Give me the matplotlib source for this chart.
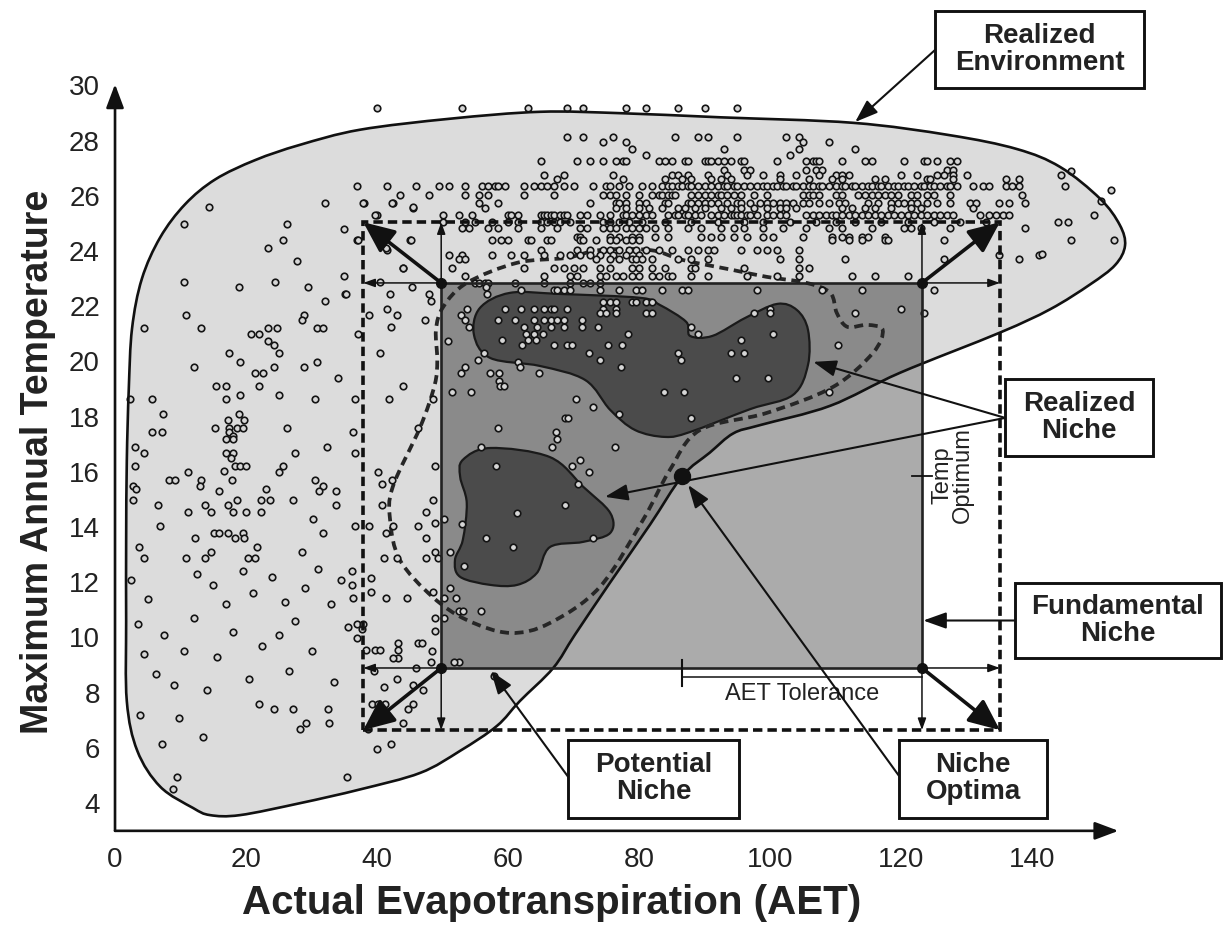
import numpy as np
import matplotlib
matplotlib.use('Agg')
import matplotlib.pyplot as plt
from matplotlib.path import Path
from matplotlib.patches import PathPatch, Rectangle

plt.rcParams['font.family'] = ['Liberation Sans', 'DejaVu Sans']

# ---- axis ticks
x_ticks = [0, 20, 40, 60, 80, 100, 120, 140]
y_ticks = [4, 6, 8, 10, 12, 14, 16, 18, 20, 22, 24, 26, 28, 30]

# ---- outlines (AET, temperature)
realized_env = [(1.8, 7.8), (1.7, 10.7), (1.7, 13.6), (1.8, 16.5), (2.1, 19.1), (2.6, 21.3),
                (4.1, 23.1), (6.9, 24.6), (10.7, 25.8), (15.3, 26.7), (21.4, 27.4), (28.2, 27.95),
                (37.4, 28.5), (51.2, 28.9), (64.9, 29.15), (77.1, 29.1), (92.4, 28.95), (112.7, 28.75),
                (127.5, 28.3), (137.7, 27.8), (144.3, 27.15), (150.4, 26.0), (153.4, 25.05),
                (154.2, 24.3), (152.7, 23.6), (148.9, 22.9), (142.8, 22.0), (135.1, 21.15),
                (119.9, 19.7), (109.2, 18.5), (98.5, 17.8), (94.4, 17.5), (90.8, 16.8), (86.6, 15.95),
                (81.7, 14.2), (75.6, 12.1), (70.2, 10.2), (66.9, 9.0), (61.8, 7.8), (58.3, 6.9),
                (52.7, 6.0), (46.6, 5.2), (37.4, 4.6), (28.2, 4.1), (19.1, 3.67), (14.5, 3.67),
                (11.9, 3.93), (6.9, 4.7), (3.4, 6.0)]

potential_dash = [(81.7, 24.14), (74.0, 24.14), (69.0, 23.86), (61.4, 23.68), (53.7, 22.95),
                  (50.1, 22.08), (49.0, 21.25), (49.2, 20.16), (48.8, 19.25), (46.6, 17.73),
                  (42.4, 15.56), (42.0, 14.36), (43.5, 12.91), (48.5, 11.57), (53.7, 10.74),
                  (60.3, 10.27), (66.4, 10.63), (74.0, 11.93), (80.6, 14.36), (84.7, 16.17),
                  (89.3, 17.62), (99.5, 18.24), (109.6, 19.18), (115.7, 20.41), (117.2, 21.25),
                  (114.8, 21.43), (111.8, 21.36), (110.2, 21.86), (109.2, 22.59), (105.6, 22.95),
                  (99.5, 23.17), (94.3, 23.42), (86.7, 23.78)]

niche_upper = [(79.4, 17.62), (84.0, 17.37), (87.8, 17.55), (97.0, 18.38), (103.5, 18.89),
               (105.8, 19.98), (105.8, 21.25), (104.1, 21.97), (101.1, 22.19), (96.2, 21.68),
               (91.2, 21.03), (87.8, 21.03), (87.2, 21.54), (83.2, 22.15), (80.2, 22.41),
               (67.9, 22.55), (60.3, 22.59), (55.7, 22.04), (54.8, 21.07), (57.3, 20.23),
               (64.9, 19.94), (71.8, 19.43), (75.6, 18.35)]

niche_lower = [(53.1, 16.54), (57.3, 16.97), (66.4, 16.64), (71.5, 15.56), (75.6, 14.62),
               (75.6, 13.89), (71.5, 13.57), (66.4, 13.38), (64.4, 12.44), (61.4, 12.01),
               (57.3, 12.01), (52.7, 12.3), (51.9, 12.91), (53.1, 13.64), (53.7, 14.98),
               (52.7, 15.92)]

# fundamental niche and its outer (dashed) limits
fund_aet = [49.8, 123.2]
fund_temp = [9.0, 22.95]
outer_aet = [37.9, 135.1]
outer_temp = [6.75, 25.15]
optimum = (86.6, 15.95)

# ---- observations, rows of the dense upper band (temperature -> AET values)
t293 = [40, 53, 63, 69, 71.5, 78, 81, 86, 90, 95]
t2825 = [69, 71.5, 76, 85.5, 89, 90.5, 95, 102.5, 104.5]
t2805 = [74.5, 78, 105, 109]
t278 = [79, 93, 104.5, 113]
t276 = [81, 103]
t2735 = [65, 70.5, 72.5, 74.5, 76.5, 77.5, 78, 83, 84, 85, 87, 87.5, 90, 90.5, 91, 92, 93, 94, 95.5,
         96, 101, 105.5, 106.5, 107, 107.5, 111, 114.5, 115.5, 120.5, 123.5, 124, 125.5, 127.5, 128.5]
t2705 = [93, 96, 97, 105.5, 107, 108, 127, 128]
t2685 = [65.5, 68.5, 76, 85, 86, 87.5, 90.5, 93.5, 96.5, 99, 101.5, 104, 107.5, 110, 111, 112, 120,
         122.5, 125.5, 126.5, 128, 130, 144.5]
t267 = [67.5, 77.5, 84, 86.5, 88, 91, 92.5, 94, 101.5, 106, 109.5, 111, 116, 117.5, 124, 124.5, 128,
        136, 138]
t2645 = [37, 41.5, 46, 49.5, 51, 53.5, 56, 57, 58, 58.5, 59.5, 62.5, 64, 65, 66, 67, 68.5, 70, 73, 75,
         75.5, 77, 78.5, 80.5, 82, 83.5, 84.5, 85, 86, 86.5, 87.5, 88, 89, 90, 91, 92, 93, 93.5, 94.5,
         95, 96, 97, 98, 99, 99.5, 100.5, 101, 102, 102.5, 103.5, 104, 105, 106, 106.5, 107.5, 108,
         109, 110, 111, 111.5, 112.5, 113, 114, 115, 115.5, 116.5, 117, 118, 119, 119.5, 120.5, 121,
         122, 123, 123.5, 124.5, 125, 126, 127, 127.5, 128.5, 131, 132.5, 133.5, 136, 137, 138, 145]
t2615 = [43.5, 48, 53.5, 55.5, 57, 62.5, 67, 74.5, 75.5, 76.5, 78, 80, 82, 83, 83.5, 84.5, 85, 85.5,
         88, 89, 90, 91, 92, 92.5, 93.5, 94.5, 95.5, 97.5, 99.5, 105, 106, 106.5, 107.5, 110, 111,
         113.5, 114.5, 115.5, 116.5, 117.5, 118.5, 119.5, 121.5, 122.5, 124, 125, 127.5, 138.5]
t2585 = [38, 42.5, 55.5, 58.5, 72.5, 76.5, 77, 78, 80, 81, 84, 84.5, 87.5, 88, 89, 90, 91, 92, 93.5,
         95, 95.5, 97, 98.5, 99.5, 100.5, 101.5, 102.5, 103.5, 105, 106, 107.5, 109, 110.5, 111.5,
         115, 116.5, 118.5, 119.5, 120.5, 121.5, 122.5, 124, 125.5, 127.5, 130.5, 131.5, 135, 136.5,
         139]
t2565 = [45.5, 56.5, 76.5, 78, 80, 81.5, 83.5, 86, 87, 88.5, 90, 92.5, 94, 95.5, 97.5, 99.5, 101.5,
         102.5, 104, 111, 112.5, 114.5, 116, 118.5, 121.5, 123, 131]
t254 = [40, 50, 52.5, 54.5, 60, 60.5, 61.5, 65, 65.5, 66, 66.5, 67, 68, 68.5, 69, 71, 72, 74, 75.5,
        77.5, 78, 79, 80, 81, 82, 84.5, 85.5, 86, 87, 87.5, 88.5, 89.5, 91, 92, 93, 94, 94.5, 95,
        95.5, 96.5, 97, 98, 99.5, 100.5, 101.5, 102.5, 105.5, 106.5, 107.5, 108.5, 109.5, 110, 111,
        112, 113, 114, 115, 116, 117, 118, 119, 120, 121, 122, 123, 124, 125, 126, 127, 128, 132,
        133.5, 134.5, 135.5, 136.5, 149.5]
t2515 = [50, 53.5, 55, 57.5, 60, 61.5, 65, 66, 67, 68, 69.5, 74.5, 75.5, 77, 78.5, 80.5, 84, 88, 92,
         96, 99, 103, 107, 110, 113, 117, 121, 125, 129, 133, 144, 145.5]
t2495 = [53, 54, 57, 58.5, 61.5, 65, 67.5, 71, 72, 74.5, 75.5, 76.5, 78, 79, 80, 81, 82.5, 84.5, 87.5,
         89.5, 92.5, 94.5, 96, 99, 102, 105.5, 109, 111, 115.5, 120.5, 121.5, 123, 127.5, 139]
t246 = [70.5, 71, 75.5, 77, 79, 80, 82.5, 84.5, 89.5, 91, 92.5, 94.5, 96.5, 99, 100.5, 105, 109.5,
        111, 112, 114, 115, 117.5]
t245 = [37, 45, 57.5, 59, 60, 63, 63.5, 66, 66.5, 71, 71.5, 73.5, 75.5, 76.5, 78, 79, 80, 109.5, 112,
        114, 117.5, 118, 126.5, 146, 152.5]
t2415 = [41.5, 65, 70.5, 72.5, 74.5, 75.5, 77, 78.5, 79.5, 81, 83, 85, 87.5, 89, 90.5, 91.5, 95.5, 98,
         99.5, 101, 104.5]
t2395 = [51, 53, 57.5, 60.5, 62.5, 65.5, 68, 69.5, 71, 72.5, 74, 76, 78, 80, 135, 141]
t238 = [52.5, 53.5, 73.5, 75.5, 77, 79, 79.5, 80.5, 82, 86, 88, 90.5, 101.5, 104.5, 111.5, 126.5]
t235 = [44, 51.5, 62.5, 67, 68.5, 70, 71.5, 74, 75.5, 79, 80, 82, 84, 88, 88.5, 96, 104.5, 106]
t232 = [53.5, 65.5, 69.5, 70.5, 74, 75, 76.5, 77.5, 79, 80, 82, 83, 84.5, 85, 88, 90.5, 96.5, 101,
        104.5, 112.5, 116, 121]
t2295 = [55, 55.5, 56.5, 57, 61, 65.5, 69.5, 71.5, 72.5, 74]
t227 = [62, 67, 67.5, 68.5, 69.5, 74, 77, 79.5, 80.5, 83.5, 86.5, 87.5, 98, 108, 114, 125]
t2225 = [74.5, 75.5, 76.5, 79, 79.5, 81, 82]
t220 = [59.5, 62, 64, 65.5, 66.5, 67, 69, 74.5, 76.5, 100, 120]
t2185 = [74, 75, 76.5, 81, 82, 97.5, 100, 113, 123.5]

band_temps = [29.3, 28.25, 28.05, 27.8, 27.6, 27.35, 27.05, 26.85, 26.7, 26.45, 26.15, 25.85, 25.65,
              25.4, 25.15, 24.95, 24.6, 24.5, 24.15, 23.95, 23.8, 23.5, 23.2, 22.95, 22.7, 22.25,
              22.0, 21.85]
band_aet = [t293, t2825, t2805, t278, t276, t2735, t2705, t2685, t267, t2645, t2615, t2585, t2565,
            t254, t2515, t2495, t246, t245, t2415, t2395, t238, t235, t232, t2295, t227, t2225,
            t220, t2185]

# ---- scattered observations (AET, temperature)
niche_pts = [(58.5, 21.6), (61, 21.6), (64, 21.6), (65.5, 21.6), (66.5, 21.6), (67.5, 21.6), (68.5, 21.6),
             (71.3, 21.6), (62.5, 21.35), (64.5, 21.35), (66.5, 21.35), (68.5, 21.35), (71.3, 21.35),
             (73.8, 21.35), (62.7, 21.1), (63.9, 21.1), (65.3, 21.1), (78.3, 21.1), (63.1, 20.9),
             (64.2, 20.9), (59.1, 20.9), (62.2, 20.7), (67, 20.7), (69, 20.7), (69.7, 20.7), (72.4, 20.4),
             (75.2, 20.7), (77.4, 20.7), (74.1, 20.15), (77.2, 19.9), (50.9, 20.85), (52.8, 21.8),
             (53.4, 21.6), (53.8, 22.0), (54, 21.35), (56.7, 22.8), (56.8, 22.55), (51.5, 19.0),
             (54.3, 19.0), (52.8, 19.7), (53.4, 19.9), (55.4, 20.15), (56.4, 20.4), (57.3, 19.7),
             (58.7, 19.7), (58.7, 19.4), (58.8, 19.2), (59.4, 19.2), (61.6, 20.1), (61.8, 19.9),
             (64.7, 19.7), (70.4, 18.75), (73, 18.45), (68.7, 18.05), (69.2, 18.05), (76.9, 18.2),
             (88, 21.35), (89, 21.1), (100.4, 21.1), (95.6, 20.9), (110.4, 20.7), (86, 20.4),
             (86.4, 20.15), (94, 20.4), (96, 20.4), (94.8, 19.5), (99.7, 19.5), (83.8, 19.0),
             (86.9, 19.0), (109, 19.0), (88, 18.05), (58.4, 17.7), (67.3, 17.55), (67.5, 17.3),
             (55.9, 17.0), (66.7, 17.0), (76.3, 17.0), (58.2, 16.3), (69.8, 16.3), (71, 16.55),
             (72.4, 16.1), (70.7, 15.65), (68.7, 14.9), (61.4, 14.6), (56.7, 13.7), (60.8, 13.4),
             (73, 13.7), (53.3, 12.7), (51.2, 11.9), (52, 11.55), (50.2, 11.55), (52.5, 11.05),
             (53.1, 11.05), (55.9, 11.05), (50.3, 10.8), (52.5, 9.2), (48.2, 9.2), (51.8, 9.2),
             (57.8, 8.7)]

gap_pts = [(48.9, 16.3), (48.6, 15.1), (47.5, 14.65), (48.9, 14.25), (50.3, 14.4), (52.9, 14.2),
           (47.5, 13.7), (51.2, 13.2), (48.9, 13.2), (49.3, 13.0), (47.5, 13.0), (48.6, 11.75),
           (48.9, 10.8), (48.9, 10.35), (48.4, 9.6), (40.2, 16.1), (40.8, 15.65), (42.3, 15.8),
           (40.8, 14.9), (36.6, 16.8), (36.3, 17.55), (46.2, 17.7), (36.6, 14.15), (38.8, 14.15),
           (42.5, 14.15), (41.4, 13.9), (46.3, 14.15), (41.1, 13.0), (43.1, 13.0), (39.1, 12.25),
           (39.1, 11.75), (36.2, 12.5), (36.2, 12.0), (36.3, 11.55), (41.4, 11.55), (44.6, 11.55),
           (36.9, 10.6), (37.7, 10.4), (37.9, 10.6), (36.9, 10.1), (38.3, 9.65), (39.7, 9.65),
           (40.5, 9.65), (43.2, 9.9), (43.2, 9.65), (43.2, 9.35), (46.3, 9.9), (46.8, 9.9),
           (42.5, 9.35), (39.2, 7.7), (40.2, 7.7), (41.2, 7.7), (44.7, 7.5), (45.5, 7.7),
           (43.9, 7.0), (40, 6.05), (42.2, 6.25), (38.6, 6.8), (41, 8.3), (43, 8.6), (45.5, 8.4),
           (39.5, 8.9), (47, 8.2), (46, 9.0), (43.9, 19.2), (41.9, 18.75), (48.6, 18.75),
           (36.6, 18.75), (40.5, 20.4), (37.1, 21.1), (42.2, 21.35), (47.4, 21.6), (38.8, 21.8),
           (43.1, 21.8), (41.5, 22.0), (48.2, 22.3), (48, 22.55), (42, 22.55), (45.4, 22.8),
           (40.5, 23.0), (43.9, 23.5), (37.1, 24.5), (45.2, 24.5), (41.4, 24.2), (37.9, 25.85),
           (42.3, 25.85), (45.5, 25.7), (39.7, 25.4)]

left_pts = [(10.6, 23.0), (18.9, 22.8), (24.5, 23.0), (29.5, 22.8), (32.0, 22.3), (35.1, 22.55),
            (10.9, 21.8), (4.5, 21.3), (13.2, 21.3), (20.8, 21.1), (22, 21.1), (23.4, 21.3),
            (24.8, 21.3), (28.9, 21.8), (28.5, 21.6), (30.9, 21.3), (31.8, 21.3), (23.4, 20.85),
            (24.2, 20.7), (25.1, 20.4), (17.4, 20.4), (19.1, 20.1), (12, 19.9), (21.4, 19.7),
            (22.6, 19.7), (24.2, 19.9), (28.8, 19.9), (30.9, 20.1), (34, 19.5), (15.4, 19.2),
            (16.9, 19.2), (22, 19.2), (19.1, 18.9), (25.1, 18.9), (2.3, 18.75), (5.7, 18.75),
            (16.9, 18.75), (30.6, 18.75), (7.4, 18.2), (17.2, 18.0), (18.9, 18.2), (19.7, 18.0),
            (15.2, 17.7), (17.4, 17.7), (18.6, 17.7), (19.5, 17.7), (26.2, 17.7), (5.7, 17.55),
            (7.1, 17.55), (17.4, 17.55), (18, 17.4), (16.9, 17.3), (18, 17.3), (3.1, 17.0),
            (4.5, 16.8), (16.9, 16.8), (18, 16.8), (27.5, 16.8), (32.3, 17.0), (17.7, 16.6),
            (3.1, 16.3), (18.3, 16.3), (19.1, 16.3), (20, 16.3), (25.7, 16.3), (25.1, 16.1),
            (11.2, 16.1), (16.6, 16.15), (8.2, 15.8), (9.1, 15.8), (13.2, 15.8), (12.9, 15.6),
            (17.8, 15.8), (30.6, 15.8), (31.8, 15.6), (2.8, 15.6), (3.2, 15.5), (2.8, 15.1),
            (15.8, 15.4), (23.1, 15.5), (31.1, 15.4), (33.7, 15.4), (6.5, 14.9), (13.8, 14.9),
            (17.2, 14.9), (18.6, 15.1), (22.3, 15.1), (23.7, 15.1), (27.2, 15.1), (33.7, 14.9),
            (11.2, 14.65), (14.6, 14.65), (18, 14.65), (20, 14.65), (22.3, 14.65), (30.3, 14.4),
            (6.8, 14.15), (15.1, 13.9), (15.8, 13.9), (17.2, 13.9), (19.5, 13.9), (31.8, 13.9),
            (12.2, 13.7), (18.3, 13.7), (19.7, 13.7), (3.7, 13.4), (21.7, 13.4), (4.5, 13.0),
            (10.8, 13.0), (13.8, 13.0), (14.6, 13.2), (20.3, 13.0), (21.4, 13.0), (28.5, 13.2),
            (14.3, 25.7), (10.5, 25.1), (26.2, 25.1), (25.7, 24.5), (23.4, 24.2), (27.8, 23.75),
            (32, 25.85), (34.9, 24.9), (34.9, 23.2), (35.2, 22.55), (7.2, 6.25), (9.8, 7.2),
            (13.5, 6.5), (9.5, 5.05), (8.9, 4.6), (22, 7.7), (24.2, 7.5), (27.2, 7.5), (28.3, 6.8),
            (29.1, 7.0), (32.5, 7.5), (32.6, 7.0), (35.4, 5.05), (2.5, 12.2), (5, 11.5), (3.5, 10.6),
            (7.5, 10.2), (4.5, 9.5), (6.3, 8.8), (9, 8.4), (12.5, 12.4), (15, 12.0), (17, 11.3),
            (19.5, 12.5), (21, 11.7), (24, 12.3), (26, 11.4), (27.5, 10.7), (25, 10.2), (29, 11.9),
            (31, 12.6), (33, 11.3), (34.5, 12.2), (35.5, 10.5), (30, 9.6), (22.5, 9.8), (18, 10.3),
            (15.5, 9.4), (12, 10.8), (10.5, 9.6), (20.5, 8.6), (26.5, 8.9), (33.5, 8.5), (14, 8.2),
            (3.8, 7.3)]

right_pts = [(138, 23.8), (141.5, 24.0), (146, 27.0), (152, 26.3), (150.5, 25.9)]


def smooth(pts):
    # closed Catmull-Rom outline as cubic Bezier path
    p = np.asarray(pts, float)
    n = len(p)
    verts = [p[0]]
    codes = [Path.MOVETO]
    for i in range(n):
        p0, p1, p2, p3 = p[i - 1], p[i], p[(i + 1) % n], p[(i + 2) % n]
        verts += [p1 + (p2 - p0) / 6, p2 - (p3 - p1) / 6, p2]
        codes += [Path.CURVE4] * 3
    verts.append(p[0])
    codes.append(Path.CLOSEPOLY)
    return Path(verts, codes)


fig = plt.figure(figsize=(12.23, 9.32), dpi=100)
ax = fig.add_axes([0, 0, 1, 1])
ax.set_xlim(-17.56, 169.16)
ax.set_ylim(-0.565, 33.2)
ax.axis('off')

env_path = smooth(realized_env)
ax.add_patch(PathPatch(env_path, facecolor='#dcdcdc', edgecolor='none', zorder=1))

fx0, fx1 = fund_aet
fy0, fy1 = fund_temp
ax.add_patch(Rectangle((fx0, fy0), fx1 - fx0, fy1 - fy0, facecolor='#ababab', edgecolor='none', zorder=2))
clip = Rectangle((fx0, fy0), fx1 - fx0, fy1 - fy0, transform=ax.transData)
pot = PathPatch(env_path, facecolor='#8a8a8a', edgecolor='none', zorder=3)
ax.add_patch(pot)
pot.set_clip_path(clip)

for blob in (niche_upper, niche_lower):
    ax.add_patch(PathPatch(smooth(blob), facecolor='#4b4b4b', edgecolor='#1a1a1a', lw=1.6, zorder=4))

ax.add_patch(PathPatch(smooth(potential_dash), facecolor='none', edgecolor='#262626', lw=2.7,
                       linestyle=(0, (2.4, 1.5)), zorder=5))

# observations
xs, ys = [], []
for t, row in zip(band_temps, band_aet):
    xs += row
    ys += [t] * len(row)
for group in (niche_pts, gap_pts, left_pts, right_pts):
    xs += [p[0] for p in group]
    ys += [p[1] for p in group]
ax.scatter(xs, ys, s=22, facecolor='#d6d6d6', edgecolor='#141414', linewidths=1.2, zorder=6)

ax.add_patch(PathPatch(env_path, facecolor='none', edgecolor='#111111', lw=1.9, zorder=7))

# fundamental niche frame and outer limits
ax.add_patch(Rectangle((fx0, fy0), fx1 - fx0, fy1 - fy0, facecolor='none', edgecolor='#222222',
                       lw=1.9, zorder=8))
ox0, ox1 = outer_aet
oy0, oy1 = outer_temp
ax.add_patch(Rectangle((ox0, oy0), ox1 - ox0, oy1 - oy0, facecolor='none', edgecolor='#111111',
                       lw=2.6, linestyle=(0, (2.6, 1.4)), zorder=8))

thin = dict(arrowstyle='-|>,head_length=0.7,head_width=0.25', lw=1.1, color='#111111',
            mutation_scale=10, shrinkA=0, shrinkB=0)
thick = dict(arrowstyle='-|>,head_length=0.95,head_width=0.42', lw=2.6, color='#111111',
             mutation_scale=20, shrinkA=0, shrinkB=0)
for cx, ex in ((fx0, ox0), (fx1, ox1)):
    for cy, ey in ((fy0, oy0), (fy1, oy1)):
        ax.annotate('', xy=(ex, cy), xytext=(cx, cy), arrowprops=thin, zorder=9)
        ax.annotate('', xy=(cx, ey), xytext=(cx, cy), arrowprops=thin, zorder=9)
        ax.annotate('', xy=(ex, ey), xytext=(cx, cy), arrowprops=thick, zorder=9)
ax.plot([fx0, fx1, fx0, fx1], [fy0, fy0, fy1, fy1], 'o', color='#111111', ms=7, zorder=10)

# optimum, tolerance
ax.plot(optimum[0], optimum[1], 'o', color='#111111', ms=11.5, zorder=10)
ax.plot([fx1 - 1.5, fx1 + 1.5], [optimum[1], optimum[1]], color='#111111', lw=1.3, zorder=9)
ax.plot([optimum[0], optimum[0]], [8.35, 9.3], color='#111111', lw=1.5, zorder=9)
ax.plot([optimum[0], fx1], [8.67, 8.67], color='#111111', lw=1.1, zorder=9)
ax.text(104.9, 8.06, 'AET Tolerance', fontsize=17, color='#222222', ha='center', va='center', zorder=11)
ax.text(127.9, 16.0, 'Temp\nOptimum', fontsize=17, color='#222222', rotation=90, ha='center',
        va='center', linespacing=0.95, zorder=11)

# label boxes
labels = ['Realized\nEnvironment', 'Realized\nNiche', 'Fundamental\nNiche', 'Potential\nNiche',
          'Niche\nOptima']
box_x = [(125.2, 157.1), (135.9, 158.5), (137.4, 168.85), (69.2, 95.3), (119.7, 142.3)]
box_y = [(30.01, 32.8), (16.68, 19.47), (9.36, 12.08), (3.57, 6.39), (3.57, 6.39)]
for lab, bx, by in zip(labels, box_x, box_y):
    ax.add_patch(Rectangle((bx[0], by[0]), bx[1] - bx[0], by[1] - by[0], facecolor='white',
                           edgecolor='#111111', lw=2.1, zorder=12))
    ax.text((bx[0] + bx[1]) / 2, (by[0] + by[1]) / 2, lab, fontsize=20, fontweight='bold',
            color='#222222', ha='center', va='center', linespacing=1.05, zorder=13)

lab_arrow = dict(arrowstyle='-|>,head_length=1.4,head_width=0.5', lw=1.5, color='#111111',
                 mutation_scale=10, shrinkA=0, shrinkB=0)
pointers = [((125.2, 31.39), (113.0, 28.78)), ((135.9, 18.06), (106.6, 20.09)),
            ((135.9, 18.06), (74.8, 15.2)), ((137.4, 10.72), (123.4, 10.72)),
            ((69.2, 5.05), (57.4, 8.89)), ((119.7, 5.09), (87.5, 15.63))]
for start, tip in pointers:
    ax.annotate('', xy=tip, xytext=start, arrowprops=lab_arrow, zorder=11)

# axes
ax.annotate('', xy=(0, 30.15), xytext=(0, 3.1),
            arrowprops=dict(arrowstyle='-|>,head_length=1.2,head_width=0.45', lw=1.9,
                            color='#111111', mutation_scale=12, shrinkA=0, shrinkB=0))
ax.annotate('', xy=(153.2, 3.1), xytext=(0, 3.1),
            arrowprops=dict(arrowstyle='-|>,head_length=1.2,head_width=0.45', lw=1.9,
                            color='#111111', mutation_scale=12, shrinkA=0, shrinkB=0))
for v in x_ticks:
    ax.text(v, 2.04, str(v), fontsize=20, ha='center', va='center', color='#222222')
for v in y_ticks:
    ax.text(-2.3, v, str(v), fontsize=20, ha='right', va='center', color='#222222')
ax.text(66.7, 0.49, 'Actual Evapotranspiration (AET)', fontsize=29, fontweight='bold',
        ha='center', va='center', color='#222222')
ax.text(-11.8, 16.46, 'Maximum Annual Temperature', fontsize=27, fontweight='bold', rotation=90,
        ha='center', va='center', color='#222222')

fig.savefig('out.png', dpi=100)
